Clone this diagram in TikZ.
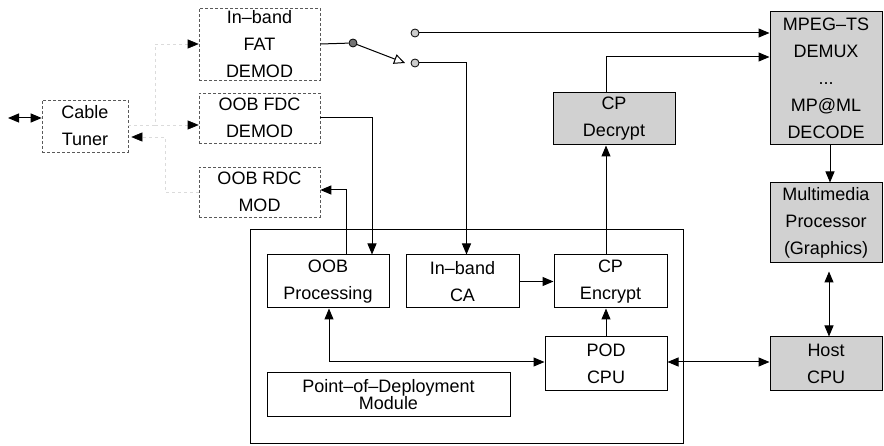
\documentclass[tikz,border=0pt]{standalone}
\usepackage{fontspec}
\setmainfont{Liberation Sans}
\usetikzlibrary{arrows.meta,positioning}

\begin{document}
\begin{tikzpicture}[
  x=1pt, y=-1pt, line width=1pt,
  every node/.style={font=\fontsize{18}{27}\selectfont, align=center, inner sep=0pt},
  dbox/.style={draw=black!65, dash pattern=on 3pt off 2pt, line width=0.6pt},
  pbox/.style={draw, line width=1pt},
  gbox/.style={draw, line width=1pt, fill=black!18},
  faint/.style={draw=black!14, dash pattern=on 3pt off 3pt, line width=0.6pt},
  port/.style={circle, draw, fill=black!20, line width=0.8pt, minimum size=8pt},
  >={Triangle[length=11pt,width=9pt]}
]
\useasboundingbox (0,0) rectangle (884,446);

% front end
\node[dbox, minimum width=86pt, minimum height=52pt] (tuner) at (85,126) {Cable\\Tuner};
\node[dbox, minimum width=121pt, minimum height=72pt] (fat) at (259.5,44) {In--band\\FAT\\DEMOD};
\node[dbox, minimum width=121pt, minimum height=50pt] (fdc) at (259.5,118) {OOB FDC\\DEMOD};
\node[dbox, minimum width=121pt, minimum height=50pt] (rdc) at (259.5,192) {OOB RDC\\MOD};

% POD module
\node[pbox, minimum width=433pt, minimum height=213pt] (pod) at (466.5,336.5) {};
\node[pbox, minimum width=122pt, minimum height=53pt] (oob) at (328,281.5) {OOB\\Processing};
\node[pbox, minimum width=113pt, minimum height=53pt] (ca) at (462.5,281.5) {In--band\\CA};
\node[pbox, minimum width=113pt, minimum height=53pt] (enc) at (610.5,281.5) {CP\\Encrypt};
\node[pbox, minimum width=122pt, minimum height=54pt] (podcpu) at (606,364) {POD\\CPU};
\node[pbox, minimum width=243pt, minimum height=43pt, font=\fontsize{18}{15}\selectfont] (podmod) at (388.5,394.5) {Point--of--Deployment\\Module};

% host side
\node[gbox, minimum width=122pt, minimum height=52pt] (dec) at (614,119) {CP\\Decrypt};
\node[gbox, minimum width=112pt, minimum height=133pt] (mpeg) at (826,78.5) {MPEG--TS\\DEMUX\\...\\MP@ML\\DECODE};
\node[gbox, minimum width=112pt, minimum height=80pt] (mm) at (826,223) {Multimedia\\Processor\\(Graphics)};
\node[gbox, minimum width=112pt, minimum height=54pt] (host) at (826,364) {Host\\CPU};

% switch
\node[circle, draw, fill=black!55, line width=0.8pt, minimum size=8pt] (piv) at (353,43) {};
\node[port] (porta) at (415,33) {};
\node[port] (portb) at (415,63) {};
\coordinate (swtip) at (405,63);

% tuner links
\coordinate (ant) at (8,118);
\coordinate (split) at (155,125);
\coordinate (ret) at (165,137);
\draw[<->] (ant) -- (tuner.west |- ant);
\draw[faint, -{Triangle[color=black,length=11pt,width=9pt]}] (tuner.east |- split) -- (split) |- (fat.west);
\draw[faint, -{Triangle[color=black,length=11pt,width=9pt]}] (split) -- (fdc.west |- split);
\draw[faint, -{Triangle[color=black,length=11pt,width=9pt]}] (rdc.west) -| (ret) -- ([xshift=3pt]tuner.east |- ret);

\draw (fat.east) -- (piv);
\draw[-{Triangle[open,length=11pt,width=10pt]}] (piv) -- (swtip);
\draw[->] (porta) -- (mpeg.west |- porta);
\draw[->] (portb) -| ([xshift=4pt]ca.north);
\draw[->] (fdc.east) -| ([xshift=44pt]oob.north);
\draw[->] ([xshift=18pt]oob.north) |- ([yshift=2pt]rdc.east);
\draw[<->] ([xshift=1pt]oob.south) |- ([yshift=2pt]podcpu.west);
\draw[->] (ca.east) -- (enc.west);
\draw[->] (podcpu.north) -- (podcpu.north |- enc.south);
\draw[->] (podcpu.north |- enc.north) -- (podcpu.north |- dec.south);
\draw[->] (podcpu.north |- dec.north) |- ([yshift=21.5pt]mpeg.west);
\draw[->] ([xshift=4pt]mpeg.south) -- ([xshift=4pt]mm.north);
\draw[<->] ([xshift=3pt,yshift=-8pt]mm.south) -- ([xshift=3pt]host.north);
\draw[<->] ([yshift=2pt]podcpu.east) -- ([yshift=2pt]host.west);
\end{tikzpicture}
\end{document}
